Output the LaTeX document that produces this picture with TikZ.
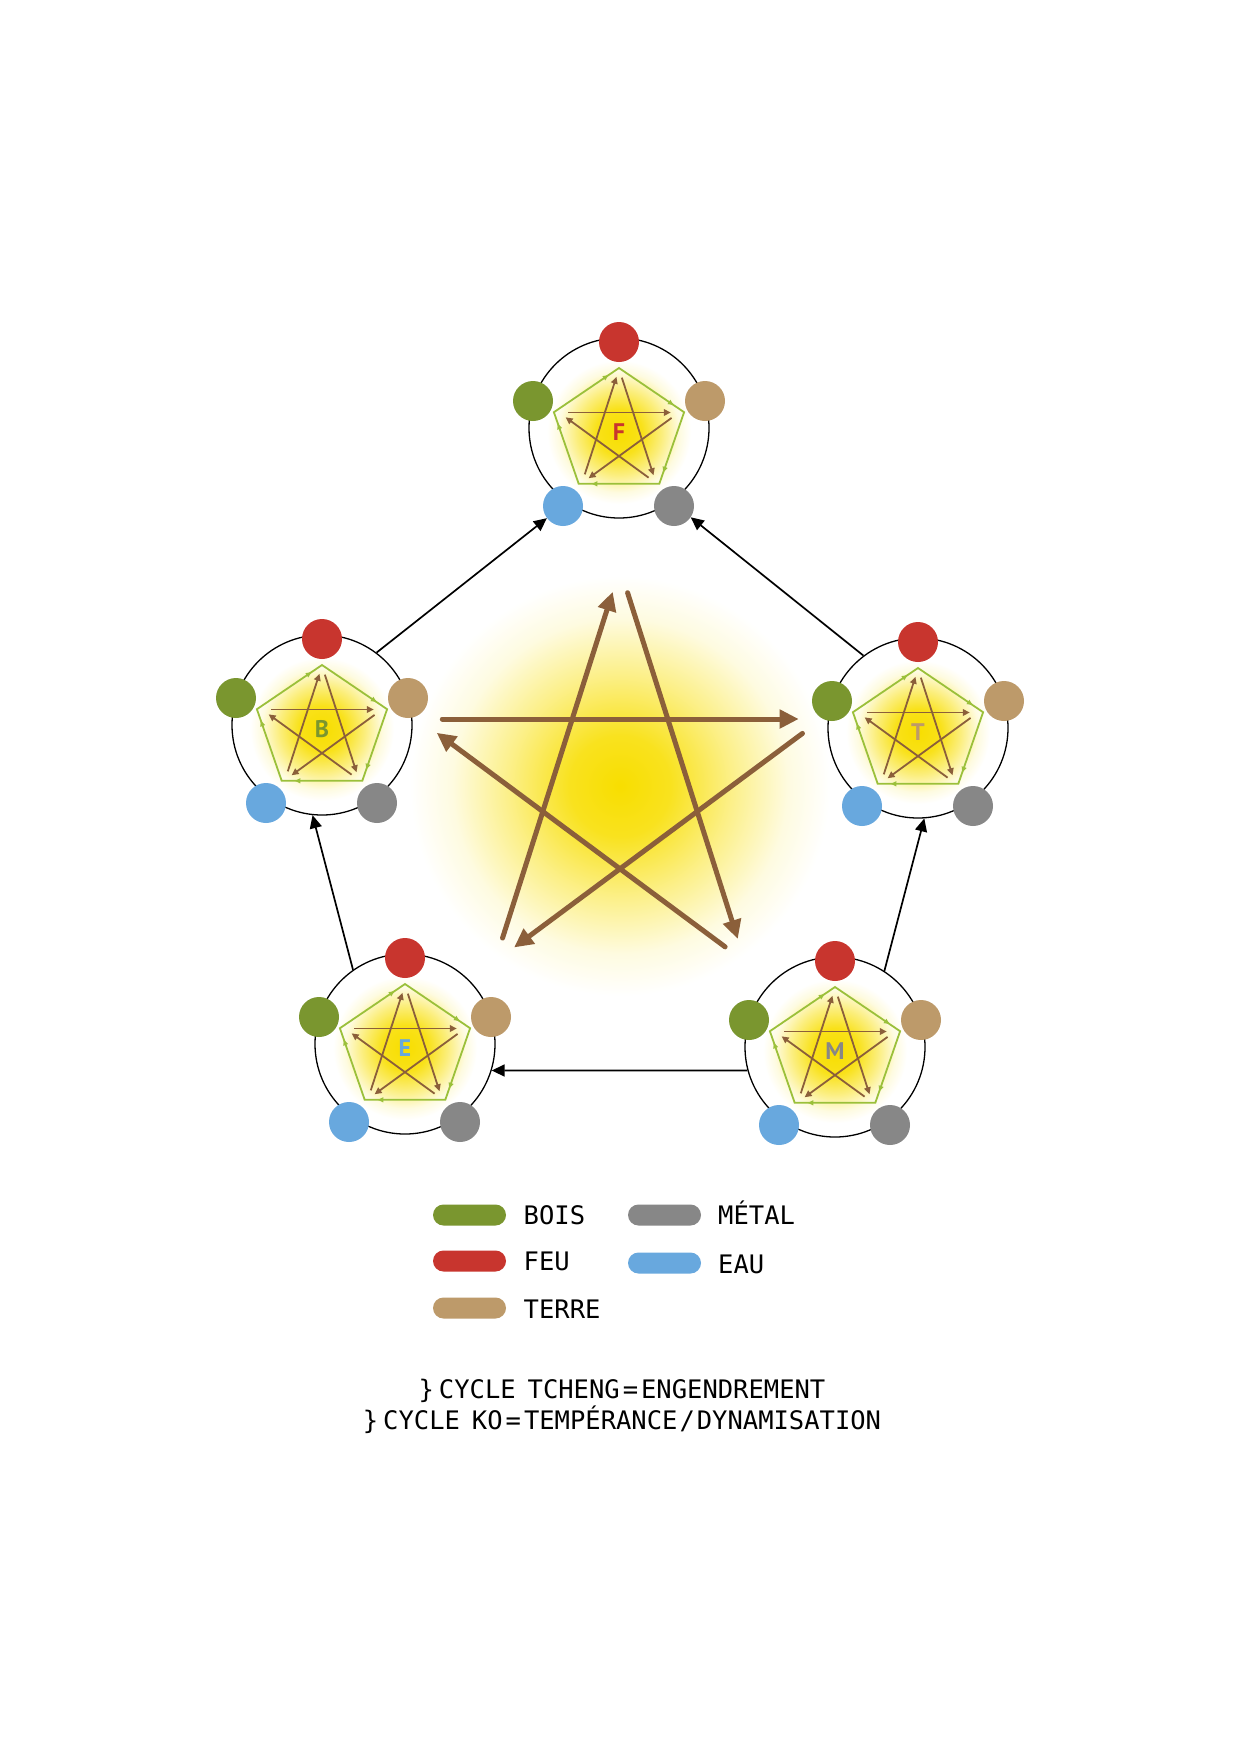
\documentclass[tikz,border=0pt]{standalone}
\usepackage{fontspec}
\usetikzlibrary{arrows.meta,calc,decorations.markings}
\newfontfamily\monofont{DejaVu Sans Mono}
\newfontfamily\letterfont{PT Sans}
\definecolor{redc}{RGB}{200,53,46}
\definecolor{greenc}{RGB}{122,150,47}
\definecolor{tanc}{RGB}{189,154,106}
\definecolor{bluec}{RGB}{104,168,222}
\definecolor{grayc}{RGB}{135,135,135}
\definecolor{brownc}{RGB}{139,95,58}
\definecolor{pentgreen}{RGB}{155,192,58}
\definecolor{yel}{RGB}{248,222,0}
\pgfdeclareradialshading{glow}{\pgfpoint{0bp}{0bp}}{color(0bp)=(yel); color(6bp)=(yel!88!white); color(13bp)=(yel!48!white); color(20bp)=(yel!12!white); color(25bp)=(white); color(50bp)=(white)}
\pgfdeclareradialshading{smallglow}{\pgfpoint{0bp}{0bp}}{color(0bp)=(yel); color(8bp)=(yel!90!white); color(15bp)=(yel!50!white); color(21bp)=(yel!12!white); color(25bp)=(white); color(50bp)=(white)}
\tikzset{
 modcircle/.style={circle, draw=black, line width=1.3pt, minimum size=180pt, inner sep=0pt},
 elemdot/.style={circle, minimum size=40pt, inner sep=0pt, draw=none},
 pentline/.style={draw=pentgreen, line width=1.8pt, line join=miter},
 pentmark/.style={decorate, decoration={markings, mark=at position 0.8 with {\fill[pentgreen] (3pt,0pt) -- (-2.5pt,2.6pt) -- (-2.5pt,-2.6pt) -- cycle;}}},
 sstar/.style={draw=brownc, line width=1.8pt, -{Triangle[length=7pt,width=6.5pt]}, shorten <=1.5pt, shorten >=0.5pt},
 bstar/.style={draw=brownc, line width=5pt, line cap=round, -{Triangle[length=19pt,width=18pt]}, shorten <=3pt, shorten >=2pt},
 conn/.style={draw=black, line width=1.7pt, -{Triangle[length=13pt,width=12pt]}},
 pill/.style={rectangle, rounded corners=10.5pt, minimum width=73pt, minimum height=21pt, inner sep=0pt, draw=none},
 legtext/.style={font=\fontsize{25.5}{30}\monofont, anchor=base west, inner sep=0pt},
 capt/.style={font=\fontsize{25.5}{30}\monofont, anchor=base, inner sep=0pt},
 modletter/.style={font=\fontsize{24}{24}\letterfont\bfseries, inner sep=0pt},
}
\newcommand{\wxmod}[5]{%
 \begin{scope}[shift={(#2,#3)}]
  \shade[shading=smallglow] (0,4) circle (72pt);
  \node[modcircle] (#1c) at (0,0) {};
  \coordinate (#1p1) at (0,-60);
  \coordinate (#1p2) at (65.1,-15.8);
  \coordinate (#1p3) at (40.3,55.8);
  \coordinate (#1p4) at (-40.3,55.8);
  \coordinate (#1p5) at (-65.1,-15.8);
  \draw[pentline] (#1p1) -- (#1p2) -- (#1p3) -- (#1p4) -- (#1p5) -- cycle;
  \path[pentmark] (#1p1) -- (#1p2);
  \path[pentmark] (#1p2) -- (#1p3);
  \path[pentmark] (#1p3) -- (#1p4);
  \path[pentmark] (#1p4) -- (#1p5);
  \path[pentmark] (#1p5) -- (#1p1);
  \coordinate (#1s1) at (0,-51);
  \coordinate (#1s2) at (52.3,-13);
  \coordinate (#1s3) at (32.3,48.5);
  \coordinate (#1s4) at (-32.3,48.5);
  \coordinate (#1s5) at (-52.3,-13);
  \draw[sstar] ($(#1s5)!2.5pt!90:(#1s2)$) -- ($(#1s2)!2.5pt!-90:(#1s5)$);
  \draw[sstar] ($(#1s2)!2.5pt!90:(#1s4)$) -- ($(#1s4)!2.5pt!-90:(#1s2)$);
  \draw[sstar] ($(#1s4)!2.5pt!90:(#1s1)$) -- ($(#1s1)!2.5pt!-90:(#1s4)$);
  \draw[sstar] ($(#1s1)!2.5pt!90:(#1s3)$) -- ($(#1s3)!2.5pt!-90:(#1s1)$);
  \draw[sstar] ($(#1s3)!2.5pt!90:(#1s5)$) -- ($(#1s5)!2.5pt!-90:(#1s3)$);
  \node[modletter, text=#5] (#1l) at (0,4) {#4};
  \node[elemdot, fill=redc] (#1r) at (0,-86) {};
  \node[elemdot, fill=greenc] (#1g) at (-86,-27) {};
  \node[elemdot, fill=tanc] (#1t) at (86,-27) {};
  \node[elemdot, fill=bluec] (#1b) at (-56,78) {};
  \node[elemdot, fill=grayc] (#1m) at (55,78) {};
 \end{scope}}
\begin{document}
\begin{tikzpicture}[x=1pt,y=-1pt]
\useasboundingbox (0,0) rectangle (1241,1754);
\fill[white] (0,0) rectangle (1241,1754);
\shade[shading=glow] (620,786) circle (210pt);
\coordinate (V1) at (620,592);
\coordinate (V2) at (800.7,726);
\coordinate (V3) at (731.7,943);
\coordinate (V4) at (508.3,943);
\coordinate (V5) at (439.3,726);
\draw[bstar] ($(V5)!7pt!90:(V2)$) -- ($(V2)!7pt!-90:(V5)$);
\draw[bstar] ($(V2)!7pt!90:(V4)$) -- ($(V4)!7pt!-90:(V2)$);
\draw[bstar] ($(V4)!7pt!90:(V1)$) -- ($(V1)!7pt!-90:(V4)$);
\draw[bstar] ($(V1)!7pt!90:(V3)$) -- ($(V3)!7pt!-90:(V1)$);
\draw[bstar] ($(V3)!7pt!90:(V5)$) -- ($(V5)!7pt!-90:(V3)$);
\wxmod{F}{619}{428}{F}{redc}
\wxmod{B}{322}{725}{B}{greenc}
\wxmod{T}{918}{728}{T}{tanc}
\wxmod{E}{405}{1044}{E}{bluec}
\wxmod{M}{835}{1047}{M}{grayc}
\draw[conn] (Bc.53) -- (Fb.217);
\draw[conn] (Tc.127) -- (Fm.326);
\draw[conn] (Ec.125) -- (Bc.264);
\draw[conn] (Mc.57) -- (Tc.274);
\draw[conn] (Mc.195) -- (Ec.343);
\node[pill, fill=greenc] (lbois) at (469.5,1215) {};
\node[pill, fill=redc] (lfeu) at (469.5,1261) {};
\node[pill, fill=tanc] (lterre) at (469.5,1308) {};
\node[pill, fill=grayc] (lmetal) at (664.5,1215) {};
\node[pill, fill=bluec] (leau) at (664.5,1263) {};
\node[legtext] (tbois) at (523.5,1224) {BOIS};
\node[legtext] (tfeu) at (523.5,1270) {FEU};
\node[legtext] (tterre) at (523.5,1318) {TERRE};
\node[legtext] (tmetal) at (718,1224) {MÉTAL};
\node[legtext] (teau) at (718,1273) {EAU};
\node[capt] (cap1) at (622,1398) {\}\kern5pt CYCLE\kern12pt TCHENG\kern3pt=\kern3pt ENGENDREMENT};
\node[capt] (cap2) at (622,1429) {\}\kern5pt CYCLE\kern12pt KO\kern3pt=\kern3pt TEMPÉRANCE\kern2pt/\kern2pt DYNAMISATION};
\end{tikzpicture}
\end{document}
